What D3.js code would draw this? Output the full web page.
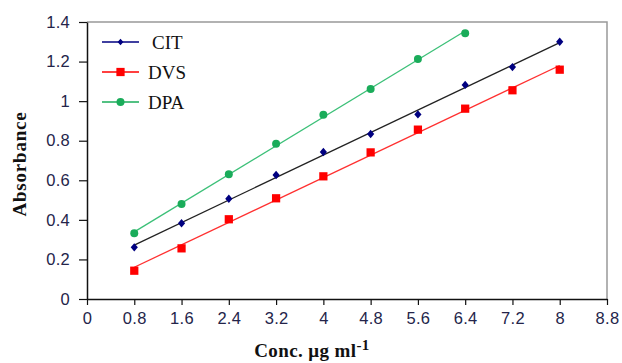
<!DOCTYPE html>
<html lang="en">
<head>
    <meta charset="UTF-8">
    <title>Absorbance vs concentration</title>
    <script src="https://d3js.org/d3.v7.min.js"></script>
    <style>
        body { margin: 0; background: #fff; }
        .tick text { font-family: "Liberation Sans", Arial, sans-serif; font-size: 16.5px; fill: #24244a; letter-spacing: 0.3px; }
        .axis-title { font-family: "Liberation Serif", "Times New Roman", serif; font-weight: bold; font-size: 19px; fill: #111; }
        .legend text { font-family: "Liberation Serif", "Times New Roman", serif; font-size: 19px; fill: #111; }
    </style>
</head>
<body>
    <svg width="622" height="363"></svg>

    <script>
        const conc = [0.8, 1.6, 2.4, 3.2, 4.0, 4.8, 5.6, 6.4, 7.2, 8.0];
        const citValues = [0.261, 0.383, 0.507, 0.627, 0.743, 0.834, 0.933, 1.082, 1.172, 1.300];
        const dvsValues = [0.143, 0.256, 0.403, 0.509, 0.620, 0.741, 0.856, 0.962, 1.055, 1.159];
        const dpaValues = [0.332, 0.480, 0.630, 0.785, 0.931, 1.061, 1.213, 1.343];
        const xTicks = [0, 0.8, 1.6, 2.4, 3.2, 4, 4.8, 5.6, 6.4, 7.2, 8, 8.8];
        const yTicks = [0, 0.2, 0.4, 0.6, 0.8, 1, 1.2, 1.4];

        const series = [
            { name: 'CIT', values: citValues, marker: 'diamond', color: '#000080', trend: '#222' },
            { name: 'DVS', values: dvsValues, marker: 'square', color: '#ff0000', trend: '#ff3030' },
            { name: 'DPA', values: dpaValues, marker: 'circle', color: '#1aac5a', trend: '#3cc078' }
        ];

        const svg = d3.select('svg');
        const margin = { top: 22, right: 15, bottom: 64, left: 87 };
        const width = 622, height = 363;

        const x = d3.scaleLinear().domain([0, 8.8]).range([margin.left, width - margin.right]);
        const y = d3.scaleLinear().domain([0, 1.4]).range([height - margin.bottom, margin.top]);

        // plot frame (top and right)
        svg.append('path')
            .attr('d', `M${x(0)},${y(1.4)}H${x(8.8)}V${y(0)}`)
            .attr('fill', 'none')
            .attr('stroke', '#999')
            .attr('stroke-width', 1.5);

        const xAxis = svg.append('g')
            .attr('transform', `translate(0,${y(0)})`)
            .call(d3.axisBottom(x).tickValues(xTicks).tickSize(6).tickSizeOuter(0).tickPadding(7).tickFormat(d3.format('')));

        const yAxis = svg.append('g')
            .attr('transform', `translate(${x(0)},0)`)
            .call(d3.axisLeft(y).tickValues(yTicks).tickSize(8).tickSizeOuter(0).tickPadding(9).tickFormat(d3.format('')));

        [xAxis, yAxis].forEach(g => {
            g.select('.domain').attr('stroke', '#111').attr('stroke-width', 1.5);
            g.selectAll('.tick line').attr('stroke', '#111').attr('stroke-width', 1.2);
        });

        // linear trend line through each series
        function fit(xs, ys) {
            const mx = d3.mean(xs), my = d3.mean(ys);
            const sxy = d3.sum(xs, (v, i) => (v - mx) * (ys[i] - my));
            const sxx = d3.sum(xs, v => (v - mx) * (v - mx));
            const b = sxy / sxx;
            return { a: my - b * mx, b };
        }

        const symbols = {
            diamond: 'M0,-4.2L3.6,0L0,4.2L-3.6,0Z',
            square: d3.symbol().type(d3.symbolSquare).size(68)(),
            circle: d3.symbol().type(d3.symbolCircle).size(50)()
        };

        series.forEach(s => {
            const xs = conc.slice(0, s.values.length);
            const f = fit(xs, s.values);
            const x0 = xs[0], x1 = xs[xs.length - 1];
            svg.append('line')
                .attr('x1', x(x0)).attr('y1', y(f.a + f.b * x0))
                .attr('x2', x(x1)).attr('y2', y(f.a + f.b * x1))
                .attr('stroke', s.trend)
                .attr('stroke-width', 1.3);

            svg.append('g').selectAll('path')
                .data(s.values)
                .enter().append('path')
                .attr('d', symbols[s.marker])
                .attr('transform', (d, i) => `translate(${x(xs[i])},${y(d)})`)
                .attr('fill', s.color);
        });

        // legend
        const legend = svg.append('g').attr('class', 'legend');
        series.forEach((s, i) => {
            const ly = 42 + i * 30;
            legend.append('line')
                .attr('x1', 102).attr('x2', 139)
                .attr('y1', ly).attr('y2', ly)
                .attr('stroke', s.color)
                .attr('stroke-width', 1.5);
            legend.append('path')
                .attr('d', symbols[s.marker])
                .attr('transform', `translate(120.5,${ly}) scale(${s.marker === 'diamond' ? 0.8 : 1})`)
                .attr('fill', s.color);
            legend.append('text')
                .attr('x', i === 0 ? 152 : 148)
                .attr('y', ly + 7)
                .text(s.name);
        });

        // axis titles
        svg.append('text')
            .attr('class', 'axis-title')
            .attr('transform', 'translate(26,164) rotate(-90)')
            .attr('text-anchor', 'middle')
            .attr('letter-spacing', 0.8)
            .text('Absorbance');

        const xt = svg.append('text')
            .attr('class', 'axis-title')
            .attr('x', 312)
            .attr('y', 357)
            .attr('font-size', 21)
            .attr('letter-spacing', 0.4)
            .attr('text-anchor', 'middle');
        xt.append('tspan').text('Conc. μg ml');
        xt.append('tspan').attr('dy', -7).attr('font-size', 15).text('-1');
    </script>
</body>
</html>
